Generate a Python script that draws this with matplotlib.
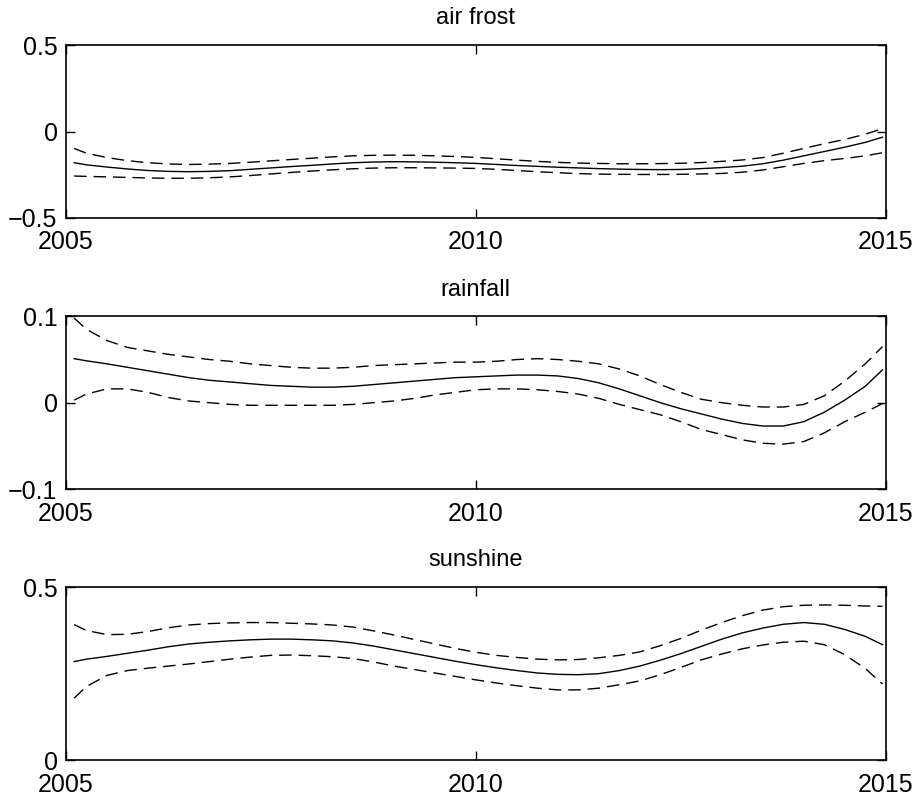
import numpy as np
import matplotlib
matplotlib.use('Agg')
import matplotlib.pyplot as plt

plt.rcParams['font.family'] = ['Liberation Sans', 'DejaVu Sans']

years = [2005.1] + [2005.25 + 0.25 * i for i in range(39)] + [2014.96]

titles = ['air frost', 'rainfall', 'sunshine']

frost_fit = [-0.180, -0.192, -0.205, -0.216, -0.225, -0.230, -0.232, -0.230, -0.226, -0.218,
             -0.210, -0.202, -0.195, -0.187, -0.180, -0.176, -0.174, -0.175, -0.177, -0.180,
             -0.184, -0.190, -0.196, -0.201, -0.206, -0.210, -0.214, -0.217, -0.219, -0.220,
             -0.219, -0.214, -0.208, -0.200, -0.186, -0.165, -0.140, -0.115, -0.090, -0.062,
             -0.032]
frost_hi = [-0.097, -0.125, -0.150, -0.168, -0.180, -0.187, -0.190, -0.188, -0.184, -0.177,
            -0.169, -0.161, -0.154, -0.146, -0.140, -0.137, -0.136, -0.137, -0.140, -0.144,
            -0.149, -0.157, -0.165, -0.172, -0.178, -0.182, -0.184, -0.186, -0.186, -0.185,
            -0.183, -0.179, -0.172, -0.164, -0.150, -0.125, -0.097, -0.070, -0.045, -0.015,
            0.018]
frost_lo = [-0.257, -0.259, -0.262, -0.265, -0.268, -0.270, -0.270, -0.267, -0.262, -0.254,
            -0.245, -0.236, -0.228, -0.221, -0.215, -0.211, -0.209, -0.209, -0.210, -0.211,
            -0.213, -0.218, -0.225, -0.232, -0.238, -0.243, -0.246, -0.247, -0.248, -0.248,
            -0.247, -0.245, -0.242, -0.235, -0.222, -0.203, -0.184, -0.168, -0.155, -0.140,
            -0.122]

rain_fit = [0.051, 0.0485, 0.045, 0.041, 0.037, 0.033, 0.029, 0.026, 0.024, 0.022,
            0.020, 0.019, 0.018, 0.018, 0.019, 0.021, 0.023, 0.025, 0.027, 0.029,
            0.030, 0.031, 0.032, 0.032, 0.031, 0.028, 0.023, 0.016, 0.008, 0.000,
            -0.007, -0.013, -0.019, -0.024, -0.027, -0.027, -0.022, -0.011, 0.003, 0.019,
            0.038]
rain_hi = [0.098, 0.085, 0.072, 0.064, 0.060, 0.056, 0.053, 0.050, 0.048, 0.045,
           0.043, 0.041, 0.040, 0.040, 0.041, 0.043, 0.044, 0.045, 0.046, 0.047,
           0.047, 0.048, 0.050, 0.051, 0.050, 0.048, 0.045, 0.039, 0.031, 0.021,
           0.012, 0.004, 0.000, -0.003, -0.005, -0.005, -0.002, 0.008, 0.025, 0.045,
           0.065]
rain_lo = [0.003, 0.010, 0.016, 0.016, 0.012, 0.006, 0.002, 0.000, -0.002, -0.003,
           -0.003, -0.003, -0.003, -0.003, -0.002, 0.000, 0.002, 0.005, 0.009, 0.012,
           0.015, 0.016, 0.016, 0.015, 0.013, 0.010, 0.005, -0.002, -0.008, -0.014,
           -0.022, -0.031, -0.037, -0.043, -0.047, -0.048, -0.045, -0.035, -0.022, -0.011,
           -0.001]

sun_fit = [0.285, 0.292, 0.300, 0.309, 0.318, 0.328, 0.336, 0.341, 0.345, 0.348,
           0.350, 0.350, 0.348, 0.345, 0.339, 0.330, 0.319, 0.308, 0.297, 0.286,
           0.276, 0.267, 0.259, 0.252, 0.248, 0.247, 0.250, 0.259, 0.272, 0.289,
           0.308, 0.329, 0.350, 0.368, 0.382, 0.393, 0.398, 0.393, 0.378, 0.358,
           0.334]
sun_hi = [0.392, 0.375, 0.363, 0.364, 0.372, 0.383, 0.391, 0.395, 0.397, 0.398,
          0.398, 0.396, 0.394, 0.391, 0.385, 0.374, 0.362, 0.349, 0.336, 0.323,
          0.312, 0.303, 0.297, 0.292, 0.290, 0.291, 0.296, 0.303, 0.313, 0.331,
          0.352, 0.376, 0.398, 0.418, 0.434, 0.444, 0.448, 0.449, 0.448, 0.446,
          0.445]
sun_lo = [0.179, 0.213, 0.245, 0.259, 0.266, 0.272, 0.278, 0.285, 0.292, 0.298,
          0.303, 0.304, 0.302, 0.299, 0.294, 0.284, 0.272, 0.262, 0.252, 0.242,
          0.232, 0.223, 0.215, 0.208, 0.203, 0.203, 0.208, 0.218, 0.229, 0.247,
          0.268, 0.290, 0.307, 0.322, 0.333, 0.341, 0.344, 0.334, 0.305, 0.265,
          0.220]

xticks = [2005, 2010, 2015]
yticks = [[-0.5, 0, 0.5], [-0.1, 0, 0.1], [0, 0.5]]

series = [(frost_fit, frost_hi, frost_lo),
          (rain_fit, rain_hi, rain_lo),
          (sun_fit, sun_hi, sun_lo)]


def fmt(v):
    return f'{v:g}'.replace('-', '\u2212')


def main():
    fig = plt.figure(figsize=(9.16, 8.05), dpi=100)
    bottoms = [0.7292, 0.3925, 0.0559]
    for k in range(3):
        ax = fig.add_axes([0.072, bottoms[k], 0.895, 0.2145])
        fit, hi, lo = series[k]
        ax.plot(years, fit, color='black', lw=1.0)
        ax.plot(years, hi, color='black', lw=1.0, linestyle=(0, (9, 5)))
        ax.plot(years, lo, color='black', lw=1.0, linestyle=(0, (9, 5)))
        ax.set_xlim(xticks[0], xticks[-1])
        ax.set_ylim(yticks[k][0], yticks[k][-1])
        ax.set_xticks(xticks)
        ax.set_xticklabels([str(t) for t in xticks])
        ax.set_yticks(yticks[k])
        ax.set_yticklabels([fmt(v) for v in yticks[k]])
        ax.tick_params(direction='in', length=6.5, width=1.0, labelsize=18,
                       top=True, right=True, pad=6)
        ax.tick_params(axis='x', pad=9)
        for s in ax.spines.values():
            s.set_linewidth(1.2)
        ax.set_title(titles[k], fontsize=17, pad=15)
    fig.savefig('out.png', dpi=100)


if __name__ == '__main__':
    main()
